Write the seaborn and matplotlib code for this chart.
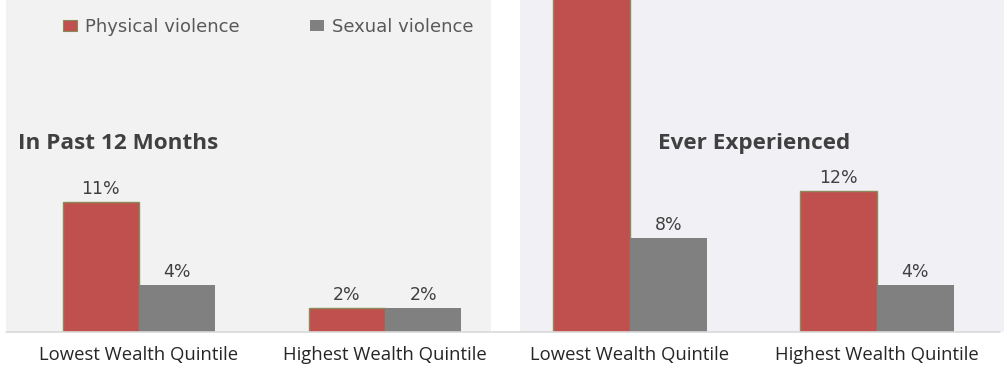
import matplotlib
matplotlib.use("Agg")
import matplotlib.pyplot as plt
import seaborn as sns
import pandas as pd
from matplotlib.lines import Line2D
from matplotlib.patches import Patch

categories = ["Lowest Wealth Quintile", "Highest Wealth Quintile"]
series = ["Physical violence", "Sexual violence"]
past12_physical = [11, 2]
past12_sexual = [4, 2]
ever_physical = [30, 12]
ever_sexual = [8, 4]
panel_titles = ["In Past 12 Months", "Ever Experienced"]

colors = {"Physical violence": "#C0504D", "Sexual violence": "#808080"}

def frame(phys, sex):
    rows = []
    for c, p, s in zip(categories, phys, sex):
        rows.append({"cat": c, "series": series[0], "val": p})
        rows.append({"cat": c, "series": series[1], "val": s})
    return pd.DataFrame(rows)

sns.set_theme(style="white")
plt.rcParams["font.family"] = ["Open Sans", "DejaVu Sans"]

W, H = 1006, 365
fig = plt.figure(figsize=(W / 100, H / 100), dpi=100)
fig.patch.set_facecolor("white")

base = 332
axL = fig.add_axes([6 / W, (H - base) / H, (491 - 6) / W, base / H])
axR = fig.add_axes([520 / W, (H - base) / H, (1004 - 520) / W, base / H])

panels = [
    (axL, frame(past12_physical, past12_sexual), "#F2F2F2", (-0.54, 1.43), 18),
    (axR, frame(ever_physical, ever_sexual), "#F1F0F5", (-0.445, 1.514), 658),
]

for i, (ax, df, bg, xl, tx) in enumerate(panels):
    sns.barplot(data=df, x="cat", y="val", hue="series", hue_order=series,
                palette=colors, width=0.62, ax=ax, legend=False, saturation=1)
    for j, cont in enumerate(ax.containers):
        for bar in cont:
            if j == 0:
                bar.set_edgecolor("#8A8A5A")
                bar.set_linewidth(1.0)
            else:
                bar.set_edgecolor("none")
        ax.bar_label(cont, labels=[f"{int(v)}%" for v in cont.datavalues],
                     padding=3, fontsize=12.5, color="#404040", family="DejaVu Sans")
    ax.set_facecolor(bg)
    ax.set_xlim(*xl)
    ax.set_ylim(0, 28.2)
    ax.set_yticks([])
    ax.set_xlabel("")
    ax.set_ylabel("")
    for s in ax.spines.values():
        s.set_visible(False)
    ax.tick_params(axis="x", length=0, pad=10, labelsize=13.3, labelcolor="#262626")
    fig.text(tx / W, 1 - 143 / H, panel_titles[i], fontsize=16.2, fontweight="bold",
             color="#404040", ha="left", va="center")

fig.add_artist(Line2D([6 / W, 1000 / W], [(H - base) / H] * 2, color="#D9D9D9",
                      lw=1.2, transform=fig.transFigure))

handles = [Patch(facecolor=colors[series[0]], edgecolor="#8A8A5A", lw=0.8),
           Patch(facecolor=colors[series[1]], edgecolor="none")]
fig.legend(handles, series, loc="center left", bbox_to_anchor=(63 / W, 1 - 27 / H),
           ncol=2, frameon=False, prop={"family": "DejaVu Sans", "size": 13},
           labelcolor="#595959", borderpad=0, borderaxespad=0,
           handlelength=0.78, handleheight=0.6, handletextpad=0.44, columnspacing=3.9)

fig.savefig("out.png", dpi=100, facecolor="white")
